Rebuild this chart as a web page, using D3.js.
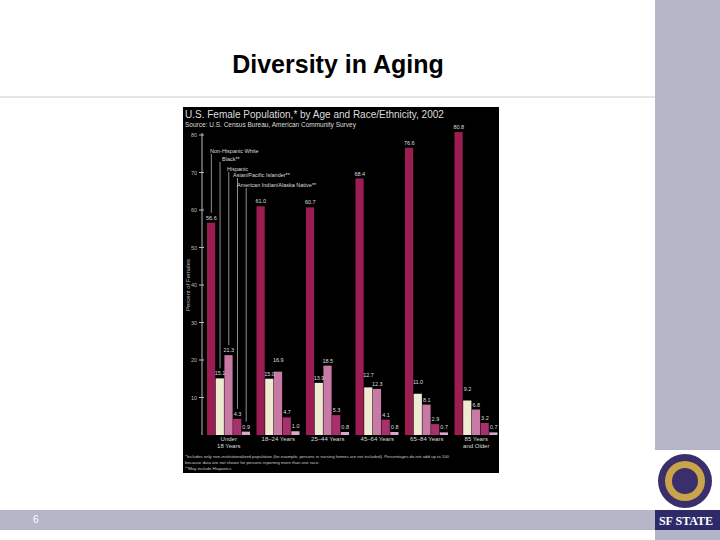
<!DOCTYPE html>
<html><head><meta charset="utf-8">
<script src="https://cdn.jsdelivr.net/npm/d3@7"></script>
<style>body{margin:0;background:#fff}svg{display:block}</style>
</head><body>
<svg id="c" width="720" height="540"></svg>
<script>
var groups = ["Under 18 Years", "18–24 Years", "25–44 Years", "45–64 Years", "65–84 Years", "85 Years and Older"];
var races = ["Non-Hispanic White", "Black**", "Hispanic", "Asian/Pacific Islander**", "American Indian/Alaska Native**"];
var white = [56.6, 61.0, 60.7, 68.4, 76.6, 80.8];
var black = [15.1, 15.0, 13.9, 12.7, 11.0, 9.2];
var hispanic = [21.3, 16.9, 18.5, 12.3, 8.1, 6.8];
var asian = [4.3, 4.7, 5.3, 4.1, 2.9, 3.2];
var aian = [0.9, 1.0, 0.8, 0.8, 0.7, 0.7];
var yTicks = [10, 20, 30, 40, 50, 60, 70, 80];
var series = [white, black, hispanic, asian, aian];
var colors = ["#9c1d52", "#efead2", "#c879a6", "#a8306c", "#dca8c8"];

var svg = d3.select("#c");
svg.append("rect").attr("x", 655).attr("y", 0).attr("width", 65).attr("height", 540).attr("fill", "#b4b6c8");
svg.append("rect").attr("x", 0).attr("y", 510).attr("width", 655).attr("height", 20).attr("fill", "#b4b6c8");
svg.append("text").attr("x", 33).attr("y", 523).attr("font-family", "Liberation Sans, Arial").attr("font-size", 10).attr("fill", "#fff").text("6");
svg.append("line").attr("x1", 0).attr("x2", 655).attr("y1", 97).attr("y2", 97).attr("stroke", "#ccc");
svg.append("text").attr("x", 338).attr("y", 73).attr("text-anchor", "middle").attr("font-family", "Liberation Sans, Arial")
  .attr("font-weight", "bold").attr("font-size", 25).text("Diversity in Aging");
// logo
svg.append("rect").attr("x", 655).attr("y", 450).attr("width", 65).attr("height", 60).attr("fill", "#fff");
svg.append("circle").attr("cx", 685).attr("cy", 481).attr("r", 27).attr("fill", "#3a2f6b");
svg.append("circle").attr("cx", 685).attr("cy", 481).attr("r", 20).attr("fill", "#c9a44a");
svg.append("circle").attr("cx", 685).attr("cy", 481).attr("r", 13).attr("fill", "#3a2f6b");
svg.append("rect").attr("x", 655).attr("y", 510).attr("width", 65).attr("height", 20).attr("fill", "#2e2a6a");
svg.append("text").attr("x", 686).attr("y", 525).attr("text-anchor", "middle").attr("font-family", "Liberation Serif")
  .attr("font-weight", "bold").attr("font-size", 12).attr("fill", "#fff").text("SF STATE");

var g = svg.append("g");
g.append("rect").attr("x", 183).attr("y", 107).attr("width", 316).attr("height", 366).attr("fill", "#000");
var f = "Liberation Sans, Arial";
g.append("text").attr("x", 185).attr("y", 118).attr("font-family", f).attr("font-size", 10).attr("fill", "#ddd")
  .text("U.S. Female Population,* by Age and Race/Ethnicity, 2002");
g.append("text").attr("x", 185).attr("y", 127).attr("font-family", f).attr("font-size", 6.5).attr("fill", "#ddd")
  .text("Source: U.S. Census Bureau, American Community Survey");

var y = d3.scaleLinear().domain([0, 80]).range([435, 135]);
var x0 = d3.scaleBand().domain(groups).range([206, 499]).paddingInner(0.12).paddingOuter(0.02);
var x1 = d3.scaleBand().domain(d3.range(5)).range([0, x0.bandwidth()]);

g.append("line").attr("x1", 202).attr("x2", 202).attr("y1", 133).attr("y2", 435).attr("stroke", "#bbb");
g.selectAll(".tk").data(yTicks).join("g").each(function(d) {
  var t = d3.select(this);
  t.append("line").attr("x1", 199).attr("x2", 204).attr("y1", y(d)).attr("y2", y(d)).attr("stroke", "#bbb");
  t.append("text").attr("x", 197).attr("y", y(d) + 2).attr("text-anchor", "end").attr("font-family", f)
    .attr("font-size", 5.5).attr("fill", "#bbb").text(d);
});
g.append("text").attr("transform", "translate(190,285) rotate(-90)").attr("text-anchor", "middle")
  .attr("font-family", f).attr("font-size", 6).attr("fill", "#bbb").text("Percent of Females");

var barLayer = g.append("g"), lineLayer = g.append("g"), labelLayer = g.append("g");
groups.forEach(function(grp, gi) {
  series.forEach(function(s, si) {
    var bx = x0(grp) + x1(si);
    barLayer.append("rect").attr("x", bx).attr("y", y(s[gi])).attr("width", x1.bandwidth() - 0.5)
      .attr("height", y(0) - y(s[gi])).attr("fill", colors[si]);
    // lift the higher of two close neighbouring labels (black vs hispanic)
    var lift = 0, b = black[gi], h = hispanic[gi];
    if (Math.abs(b - h) < 3) {
      if (si == 1 && b >= h) lift = 7;
      if (si == 2 && h > b) lift = 7;
    }
    labelLayer.append("text").attr("x", bx + x1.bandwidth() / 2).attr("y", y(s[gi]) - 3 - lift)
      .attr("text-anchor", "middle").attr("font-family", f).attr("font-size", 5.5).attr("fill", "#ddd")
      .text(s[gi].toFixed(1));
  });
  var lines = [grp];
  if (gi == 0) lines = ["Under", "18 Years"];
  else if (gi == 5) lines = ["85 Years", "and Older"];
  lines.forEach(function(l, li) {
    labelLayer.append("text").attr("x", x0(grp) + x0.bandwidth() / 2).attr("y", 441 + li * 7).attr("text-anchor", "middle")
      .attr("font-family", f).attr("font-size", 6).attr("fill", "#ddd").text(l);
  });
});

var legY = [154, 162, 172, 178, 188];
var legX = [210, 222, 227, 233, 237];
races.forEach(function(r, si) {
  var bx = x0(groups[0]) + x1(si) + x1.bandwidth() / 2;
  var bottom = y(series[si][0]) - 10;
  lineLayer.append("line").attr("x1", bx).attr("x2", bx).attr("y1", legY[si]).attr("y2", bottom).attr("stroke", "#ccc").attr("stroke-width", 0.7);
  labelLayer.append("text").attr("x", legX[si]).attr("y", legY[si] - 1).attr("font-family", f).attr("font-size", 5.5)
    .attr("fill", "#ddd").text(r);
});

["*Includes only non-institutionalized population (for example, persons in nursing homes are not included). Percentages do not add up to 100",
 "because data are not shown for persons reporting more than one race.",
 "**May include Hispanics."].forEach(function(t, i) {
  g.append("text").attr("x", 185).attr("y", 458 + i * 6).attr("font-family", f).attr("font-size", 4.3)
    .attr("fill", "#ccc").text(t);
});
</script>
</body></html>
